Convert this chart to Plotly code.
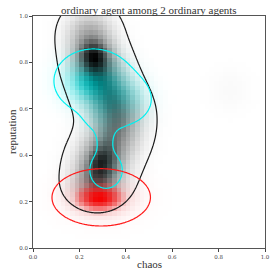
import numpy as np
import plotly.graph_objects as go

# Density components (centre x, centre y, spread x, spread y, weight)
black_mx = [0.245, 0.28, 0.32, 0.37, 0.36, 0.31, 0.28, 0.27, 0.26, 0.29, 0.85]
black_my = [0.915, 0.78, 0.67, 0.58, 0.49, 0.40, 0.32, 0.27, 0.82, 0.37, 0.68]
black_sx = [0.065, 0.070, 0.070, 0.070, 0.070, 0.070, 0.070, 0.060, 0.050, 0.045, 0.060]
black_sy = [0.070, 0.070, 0.070, 0.070, 0.070, 0.070, 0.070, 0.045, 0.050, 0.050, 0.060]
black_w = [0.55, 0.50, 0.50, 0.45, 0.45, 0.50, 0.50, 0.40, 0.70, 0.30, 0.035]
black_level = 0.03

cyan_mx = [0.26, 0.385, 0.30, 0.31, 0.315]
cyan_my = [0.72, 0.64, 0.58, 0.47, 0.335]
cyan_sx = [0.080, 0.070, 0.050, 0.025, 0.045]
cyan_sy = [0.065, 0.060, 0.050, 0.060, 0.050]
cyan_w = [1.00, 0.50, 0.30, 0.20, 0.35]
cyan_level = 0.10

red_mx = [0.285, 0.30]
red_my = [0.215, 0.22]
red_sx = [0.070, 0.110]
red_sy = [0.040, 0.065]
red_w = [1.00, 0.25]
red_level = 0.04

x_ticks = [0.0, 0.2, 0.4, 0.6, 0.8, 1.0]
y_ticks = [0.0, 0.2, 0.4, 0.6, 0.8, 1.0]
tick_text = ["0.0", "0.2", "0.4", "0.6", "0.8", "1.0"]

title = "ordinary agent among 2 ordinary agents"
x_label = "chaos"
y_label = "reputation"


def density(xs, ys, mx, my, sx, sy, w):
    X, Y = np.meshgrid(xs, ys)
    Z = np.zeros_like(X)
    for a, b, c, d, e in zip(mx, my, sx, sy, w):
        Z += e * np.exp(-0.5 * (((X - a) / c) ** 2 + ((Y - b) / d) ** 2))
    return Z


NB = 50
hx = (np.arange(NB) + 0.5) / NB
cx = np.linspace(-0.1, 1.1, 241)

# alpha ramps (position, opacity)
soft_ramp = [(0, 0.0), (0.5, 0.4), (1, 1.0)]
red_ramp = [(0, 0.0), (0.3, 0.15), (0.6, 0.55), (1, 1.0)]

# draw order: cyan, black, red
layers = [
    (cyan_mx, cyan_my, cyan_sx, cyan_sy, cyan_w, cyan_level, (0, 255, 255), "#00f0f0", soft_ramp),
    (black_mx, black_my, black_sx, black_sy, black_w, black_level, (0, 0, 0), "#1a1a1a", soft_ramp),
    (red_mx, red_my, red_sx, red_sy, red_w, red_level, (245, 0, 0), "#ff1a1a", red_ramp),
]

fig = go.Figure()
for mx, my, sx, sy, w, lev, rgb, lc, ramp in layers:
    zh = density(hx, hx, mx, my, sx, sy, w)
    zc = density(cx, cx, mx, my, sx, sy, w)
    m = zc.max()
    r, g, b = rgb
    fig.add_trace(go.Heatmap(
        x=hx, y=hx, z=zh / m, zmin=0, zmax=1, zsmooth=False,
        colorscale=[[p, f"rgba({r},{g},{b},{a})"] for p, a in ramp],
        showscale=False, hoverinfo="skip"))
for mx, my, sx, sy, w, lev, rgb, lc, ramp in [layers[1], layers[0], layers[2]]:
    zc = density(cx, cx, mx, my, sx, sy, w)
    m = zc.max()
    fig.add_trace(go.Contour(
        x=cx, y=cx, z=zc / m, showscale=False, hoverinfo="skip",
        contours=dict(start=lev, end=lev, size=1, coloring="none"),
        line=dict(color=lc, width=1.2)))

tick_font = dict(family="DejaVu Serif", size=5.5, color="#444")
axis_common = dict(
    range=[0, 1], showgrid=False, zeroline=False, ticks="outside", ticklen=3,
    tickwidth=0.8, tickcolor="#444", showline=True, linecolor="#555", linewidth=1,
    mirror=True, tickfont=tick_font, tickvals=x_ticks, ticktext=tick_text)

label_font = dict(family="Liberation Serif", size=11, color="#333")
fig.update_layout(
    template="none",
    width=277, height=277,
    margin=dict(l=33, r=12, t=16, b=29),
    paper_bgcolor="white", plot_bgcolor="white",
    font=dict(family="Liberation Serif", color="#333"),
    xaxis=dict(axis_common),
    yaxis=dict(axis_common, tickvals=y_ticks),
    showlegend=False,
    annotations=[
        dict(text=title, xref="paper", yref="paper", x=0.5, y=1 + 6 / 232,
             xanchor="center", yanchor="middle", showarrow=False, font=label_font),
        dict(text=x_label, xref="paper", yref="paper", x=0.5, y=-16 / 232,
             xanchor="center", yanchor="middle", showarrow=False, font=label_font),
        dict(text=y_label, xref="paper", yref="paper", x=-21 / 232, y=0.5,
             xanchor="center", yanchor="middle", textangle=-90, showarrow=False,
             font=label_font),
    ],
)

fig.write_html("out.html", config={"displayModeBar": False},
               post_script="document.body.style.margin='0';document.body.style.padding='0';")
